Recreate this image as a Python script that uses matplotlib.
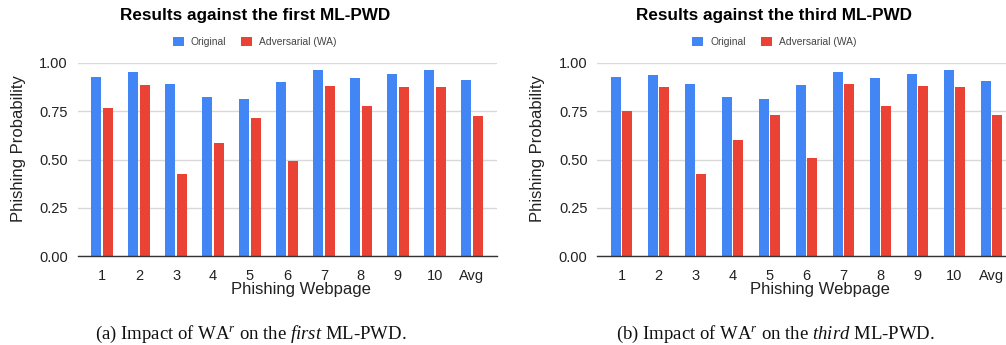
import matplotlib
matplotlib.use("Agg")
import matplotlib.pyplot as plt
import numpy as np

plt.rcParams["font.family"] = ["Liberation Sans", "DejaVu Sans"]
plt.rcParams["mathtext.fontset"] = "custom"
plt.rcParams["mathtext.rm"] = "Liberation Serif"
plt.rcParams["mathtext.it"] = "Liberation Serif:italic"

categories = ["1", "2", "3", "4", "5", "6", "7", "8", "9", "10", "Avg"]
series_names = ["Original", "Adversarial (WA)"]

first_original = [0.926, 0.951, 0.889, 0.821, 0.810, 0.899, 0.960, 0.920, 0.943, 0.960, 0.909]
first_adversarial = [0.766, 0.886, 0.427, 0.583, 0.712, 0.490, 0.881, 0.774, 0.872, 0.872, 0.726]

third_original = [0.926, 0.934, 0.889, 0.821, 0.810, 0.886, 0.951, 0.920, 0.943, 0.960, 0.905]
third_adversarial = [0.753, 0.872, 0.427, 0.599, 0.729, 0.509, 0.889, 0.774, 0.881, 0.872, 0.729]

titles = ["Results against the first ML-PWD", "Results against the third ML-PWD"]
captions = [
    r"(a) Impact of WA$^{r}$ on the $\mathit{first}$ ML-PWD.",
    r"(b) Impact of WA$^{r}$ on the $\mathit{third}$ ML-PWD.",
]

BLUE = "#4285F4"
RED = "#EA4335"

W, H = 1006, 345
fig = plt.figure(figsize=(W / 100, H / 100), dpi=100)


def draw_panel(left_px, orig, adv, title, caption, cap_x):
    ax = fig.add_axes([left_px / W, 88.7 / H, 419.3 / W, 193.6 / H])
    x = np.arange(len(categories))
    ax.bar(x - 0.155, orig, width=0.27, color=BLUE, label=series_names[0], zorder=3)
    ax.bar(x + 0.155, adv, width=0.27, color=RED, label=series_names[1], zorder=3)

    ax.set_xlim(-0.66, 10.68)
    ax.set_ylim(0, 1.0)
    ax.set_yticks([0, 0.25, 0.5, 0.75, 1.0])
    ax.set_yticklabels(["0.00", "0.25", "0.50", "0.75", "1.00"])
    ax.set_xticks(x)
    ax.set_xticklabels(categories)
    ax.tick_params(axis="y", length=0, pad=7, labelsize=10.5, labelcolor="#222222")
    ax.tick_params(axis="x", length=0, pad=9, labelsize=10.5, labelcolor="#222222")
    ax.grid(axis="y", color="#d9d9d9", linewidth=1, zorder=0)
    ax.set_axisbelow(True)
    for side in ["top", "right", "left"]:
        ax.spines[side].set_visible(False)
    ax.spines["bottom"].set_color("#333333")
    ax.spines["bottom"].set_linewidth(1)
    ax.spines["bottom"].set_zorder(4)

    ax.set_ylabel("Phishing Probability", fontsize=12, color="#222222")
    ax.yaxis.set_label_coords(-0.124, 0.554)
    ax.set_xlabel("Phishing Webpage", fontsize=12, color="#222222")
    ax.xaxis.set_label_coords(0.532, -0.133)

    ax.text(0.422, 1.246, title, transform=ax.transAxes, ha="center", va="center",
            fontsize=12.3, fontweight="bold", color="black")
    leg = ax.legend(loc="center", bbox_to_anchor=(0.422, 1.107), ncol=2, frameon=False,
                    fontsize=7.4, handlelength=1.07, handleheight=1.07,
                    handletextpad=0.68, columnspacing=1.45, borderpad=0)
    for t in leg.get_texts():
        t.set_color("#444444")

    fig.text(cap_x / W, (H - 334) / H, caption, ha="center", va="center",
             fontsize=13.5, family="Liberation Serif", color="#111111")
    return ax


draw_panel(77.7, first_original, first_adversarial, titles[0], captions[0], 251)
draw_panel(597.3, third_original, third_adversarial, titles[1], captions[1], 775)

fig.savefig("out.png", dpi=100)
